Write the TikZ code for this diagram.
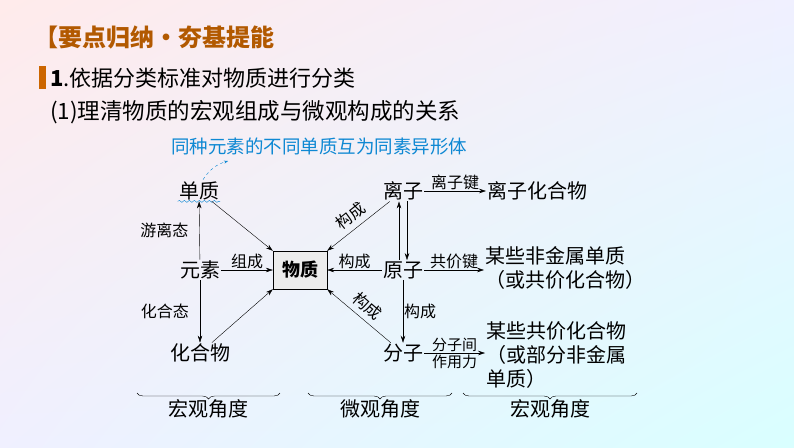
\documentclass[tikz,border=0pt]{standalone}
\usepackage{fontspec}
\setmainfont{Noto Sans CJK SC}
\usetikzlibrary{arrows.meta, positioning, decorations.pathreplacing, decorations.pathmorphing, shadings}

\begin{document}
\begin{tikzpicture}[
    x=1pt, y=-1pt,
    txt/.style={inner sep=1pt, font=\fontsize{20}{24}\selectfont},
    lbl/.style={inner sep=1pt, font=\fontsize{16}{18}\selectfont},
    arrow/.style={-{Stealth[length=7pt,width=4.5pt]}, thin},
    brace/.style={decorate, decoration={brace, mirror, amplitude=6pt}, thin}
]
% background
\shade[upper left=red!8, upper right=blue!6, lower left=blue!6, lower right=cyan!15] (0,0) rectangle (794,447);
\useasboundingbox (0,0) rectangle (794,447);

% headings
\node[anchor=west, inner sep=0, text=orange!70!black, font=\fontsize{24}{26}\selectfont\bfseries] (title) at (34,37) {【要点归纳•夯基提能};
\fill[orange!80!black] (39,66) rectangle (46,89);
\node[anchor=west, inner sep=0, font=\fontsize{22}{24}\selectfont] (sub) at (50,78) {\textbf{1}.依据分类标准对物质进行分类};
\node[anchor=west, inner sep=0, font=\fontsize{22.5}{24}\selectfont] (subsub) at (50,112) {(1)理清物质的宏观组成与微观构成的关系};
\node[anchor=west, inner sep=0, text=cyan!70!blue, font=\fontsize{18.5}{20}\selectfont] (note) at (171,146) {同种元素的不同单质互为同素异形体};

% macro side
\node[txt] (danzhi) at (199,191) {单质};
\node[txt] (yuansu) at (200,270) {元素};
\node[txt] (huahe) at (200,353) {化合物};
\node[txt, draw, fill=gray!15, minimum width=54, minimum height=38, font=\fontsize{18}{20}\selectfont\bfseries] (wuzhi) at (300,270) {物质};

% micro side
\node[txt] (lizi) at (403,191) {离子};
\node[txt] (yuanzi) at (403,270) {原子};
\node[txt] (fenzi) at (403,353) {分子};

% products
\node[txt, anchor=west] (lizihh) at (486,191) {离子化合物};
\node[txt, anchor=west, align=left] (feijin) at (484,268) {某些非金属单质\\（或共价化合物）};
\node[txt, anchor=west, align=left] (gongjia) at (485,355) {某些共价化合物\\（或部分非金属\\单质）};

% annotation
\draw[cyan!70!blue, dashed, -{Stealth[length=4pt]}] (danzhi.north) ++(4,-1) coordinate (c1) (c1) to[bend left=20] (228,161);
\draw[cyan!70!blue, decorate, decoration={snake, amplitude=1pt, segment length=5pt}] (danzhi.south west) -- (danzhi.south east);

% arrows
\draw[arrow] (yuansu) -- node[lbl, left=10pt] {游离态} (danzhi);
\draw[arrow] (yuansu) -- node[lbl, left=10pt] {化合态} (huahe);
\draw[arrow] (yuansu) -- node[lbl, above] {组成} (wuzhi);
\draw[arrow] (danzhi) -- (wuzhi.north west);
\draw[arrow] (huahe) -- (wuzhi.south west);
\draw[arrow] (lizi) -- node[lbl, above=4pt, sloped] {构成} (wuzhi.north east);
\draw[arrow] (yuanzi) -- node[lbl, above] {构成} (wuzhi);
\draw[arrow] (fenzi) -- node[lbl, above=4pt, sloped] {构成} (wuzhi.south east);
\draw[arrow] ([xshift=-4pt]yuanzi.north) -- ([xshift=-4pt]lizi.south);
\draw[arrow] ([xshift=4pt]lizi.south) -- ([xshift=4pt]yuanzi.north);
\draw[arrow] (yuanzi) -- node[lbl, right] {构成} (fenzi);
\draw[arrow] (lizi) -- node[lbl, above] {离子键} (lizihh);
\draw[arrow] (yuanzi) -- node[lbl, above] {共价键} (feijin.west |- yuanzi);
\draw[arrow] (fenzi) -- node[lbl, align=center, font=\fontsize{15}{16}\selectfont] {分子间\\[1pt]作用力} (gongjia.west |- fenzi);

% braces
\coordinate (b1l) at (137,393); \coordinate (b1r) at (280,393);
\coordinate (b2l) at (308,393); \coordinate (b2r) at (452,393);
\coordinate (b3l) at (463,393); \coordinate (b3r) at (637,393);
\draw[brace] (b1l) -- node[txt, below=5pt] {宏观角度} (b1r);
\draw[brace] (b2l) -- node[txt, below=5pt] {微观角度} (b2r);
\draw[brace] (b3l) -- node[txt, below=5pt] {宏观角度} (b3r);
\end{tikzpicture}
\end{document}
